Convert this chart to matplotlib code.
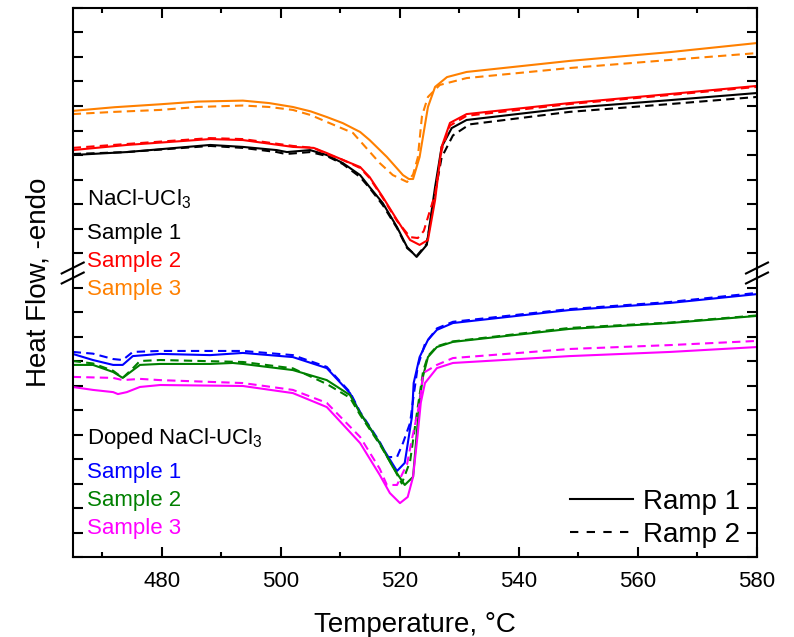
import matplotlib
matplotlib.use('Agg')
import matplotlib.pyplot as plt
from matplotlib.lines import Line2D
from matplotlib.ticker import MultipleLocator

plt.rcParams['font.family'] = ['Liberation Sans', 'DejaVu Sans']
plt.rcParams['mathtext.default'] = 'regular'

# ---- NaCl-UCl3 (upper panel), heat flow in arbitrary units ----
nacl_s1_r1_t = [465, 474.1, 488.1, 493.6, 499.3, 501.0, 504.9, 507.7, 510.4, 513.3, 514.9, 517.1,
                519.5, 521.2, 522.8, 524.5, 525.9, 527.0, 528.7, 531.2, 548.5, 565.4, 580]
nacl_s1_r1_hf = [4.00, 4.12, 4.41, 4.33, 4.20, 4.12, 4.20, 4.00, 3.67, 3.18, 2.69, 2.04,
                 1.06, 0.24, -0.16, 0.33, 2.69, 4.33, 5.10, 5.43, 5.92, 6.24, 6.53]
nacl_s1_r2_t = [465, 474.1, 488.1, 493.6, 499.3, 500.8, 504.9, 507.7, 510.4, 513.3, 514.9, 517.1,
                519.5, 521.2, 522.8, 524.5, 525.9, 527.0, 528.9, 531.7, 548.5, 565.4, 580]
nacl_s1_r2_hf = [4.04, 4.12, 4.37, 4.29, 4.12, 4.04, 4.12, 3.96, 3.63, 3.10, 2.65, 1.96,
                 1.02, 0.20, -0.12, 0.37, 2.45, 3.90, 4.80, 5.25, 5.76, 6.08, 6.37]

nacl_s2_r1_t = [465, 474.1, 488.1, 493.6, 502.0, 505.5, 507.7, 510.4, 513.3, 514.9, 517.1, 519.5,
                521.7, 523.3, 524.7, 525.9, 527.0, 528.4, 531.2, 548.5, 565.4, 580]
nacl_s2_r1_hf = [4.20, 4.41, 4.65, 4.61, 4.33, 4.29, 4.08, 3.80, 3.51, 3.10, 2.29, 1.35,
                 0.53, 0.33, 0.53, 2.16, 4.33, 5.31, 5.67, 6.12, 6.49, 6.82]
nacl_s2_r2_t = [465, 474.1, 488.1, 493.6, 502.0, 505.5, 507.7, 510.4, 513.3, 514.9, 517.1, 519.5,
                521.7, 523.0, 524.0, 525.0, 525.9, 527.0, 528.4, 531.2, 548.5, 565.4, 580]
nacl_s2_r2_hf = [4.29, 4.45, 4.69, 4.65, 4.37, 4.29, 4.04, 3.80, 3.47, 3.06, 2.25, 1.31,
                 0.65, 0.61, 0.90, 1.70, 2.40, 4.20, 5.20, 5.60, 6.08, 6.45, 6.78]

nacl_s3_r1_t = [465, 472.0, 479.7, 486.0, 493.6, 498.0, 502.0, 505.0, 507.7, 510.4, 513.3, 514.9,
                517.8, 520.5, 521.5, 522.2, 523.3, 524.7, 525.9, 527.9, 531.2, 548.5, 565.4, 580]
nacl_s3_r1_hf = [5.80, 5.95, 6.07, 6.18, 6.22, 6.12, 5.96, 5.78, 5.55, 5.30, 4.94, 4.61,
                 3.92, 3.18, 3.02, 3.02, 3.92, 5.96, 6.78, 7.18, 7.39, 7.84, 8.20, 8.57]
nacl_s3_r2_t = [465, 472.0, 479.7, 486.0, 493.6, 498.0, 502.0, 505.0, 507.7, 512.1, 516.6, 518.8,
                521.2, 522.2, 523.0, 523.7, 524.7, 526.7, 531.2, 548.5, 565.4, 580]
nacl_s3_r2_hf = [5.67, 5.76, 5.84, 5.96, 6.02, 5.96, 5.84, 5.63, 5.35, 4.90, 3.67, 3.18,
                 2.90, 3.20, 3.90, 5.60, 6.37, 6.86, 7.14, 7.55, 7.88, 8.16]

# ---- Doped NaCl-UCl3 (lower panel) ----
dop_s1_r1_t = [465, 468.4, 471.8, 473.4, 475.1, 479.7, 488.1, 493.6, 502.0, 507.7, 511.6, 513.3,
               516.6, 519.5, 520.8, 522.0, 522.3, 523.3, 524.7, 526.2, 528.9, 548.5, 565.4, 580]
dop_s1_r1_hf = [8.29, 8.04, 7.84, 7.84, 8.20, 8.29, 8.24, 8.33, 8.16, 7.71, 6.69, 5.88,
                4.65, 3.51, 3.84, 5.71, 7.10, 8.16, 8.86, 9.27, 9.55, 10.08, 10.37, 10.73]
dop_s1_r2_t = [465, 468.4, 471.8, 473.4, 475.1, 479.7, 493.6, 502.0, 507.7, 511.6, 513.3, 516.6,
               517.9, 519.5, 520.5, 521.7, 522.2, 523.0, 524.2, 526.2, 528.9, 548.5, 565.4, 580]
dop_s1_r2_hf = [8.37, 8.30, 8.08, 8.04, 8.37, 8.41, 8.41, 8.24, 7.76, 6.73, 5.92, 4.70,
                4.08, 4.08, 4.65, 5.47, 6.41, 7.80, 8.70, 9.33, 9.60, 10.12, 10.41, 10.78]

dop_s2_r1_t = [465, 468.4, 471.8, 473.4, 476.3, 479.7, 488.1, 491.9, 493.6, 502.0, 507.7, 511.6,
               513.3, 516.6, 518.8, 520.8, 522.2, 523.3, 523.9, 524.7, 526.2, 528.9, 548.5, 565.4, 580]
dop_s2_r1_hf = [7.84, 7.84, 7.55, 7.31, 7.84, 7.88, 7.88, 7.92, 7.88, 7.63, 7.22, 6.61,
                5.88, 4.65, 3.67, 2.94, 3.27, 6.41, 7.40, 8.16, 8.57, 8.78, 9.31, 9.55, 9.84]
dop_s2_r2_t = [465, 468.4, 471.8, 473.4, 475.1, 476.3, 479.7, 493.6, 502.0, 507.7, 511.6, 513.3,
               516.6, 518.8, 520.3, 521.7, 522.8, 523.9, 524.7, 526.2, 528.9, 548.5, 565.4, 580]
dop_s2_r2_hf = [8.00, 7.90, 7.60, 7.31, 7.70, 8.00, 8.04, 7.96, 7.70, 7.06, 6.50, 5.80,
                4.60, 3.70, 3.00, 3.90, 5.80, 7.60, 8.20, 8.60, 8.80, 9.35, 9.57, 9.86]

dop_s3_r1_t = [465, 468.4, 471.8, 472.6, 474.1, 476.3, 479.7, 493.6, 502.0, 507.7, 513.3, 516.6,
               518.3, 520.0, 521.3, 522.2, 523.0, 523.5, 524.2, 526.2, 528.9, 531.7, 548.5, 565.4, 580]
dop_s3_r1_hf = [6.94, 6.82, 6.73, 6.65, 6.73, 6.94, 7.02, 6.98, 6.69, 6.12, 4.65, 3.35,
                2.61, 2.20, 2.45, 3.27, 5.06, 6.30, 7.10, 7.71, 7.92, 7.96, 8.20, 8.37, 8.57]
dop_s3_r2_t = [465, 471.8, 473.4, 476.3, 479.7, 493.6, 502.0, 507.7, 513.3, 516.6, 517.8, 519.5,
               521.2, 522.0, 523.3, 523.9, 526.2, 528.9, 548.5, 565.4, 580]
dop_s3_r2_hf = [7.35, 7.31, 7.22, 7.27, 7.22, 7.10, 6.82, 6.29, 4.90, 3.60, 2.94, 2.94,
                3.80, 4.80, 6.29, 7.51, 7.84, 8.12, 8.49, 8.65, 8.82]

sample_labels = ['Sample 1', 'Sample 2', 'Sample 3']
nacl_colors = ['black', '#FF0000', '#FF8000']
dop_colors = ['#0000FF', '#008000', '#FF00FF']
ramp_labels = ['Ramp 1', 'Ramp 2']

W, H = 794, 637
fig = plt.figure(figsize=(W / 100, H / 100), dpi=100)


def px(x, y):
    return x / W, 1 - y / H


x0, x1 = 72.7, 757.0
y_top, y_brk, y_bot = 8.0, 273.0, 557.0
ax_t = fig.add_axes([x0 / W, 1 - y_brk / H, (x1 - x0) / W, (y_brk - y_top) / H])
ax_b = fig.add_axes([x0 / W, 1 - y_bot / H, (x1 - x0) / W, (y_bot - y_brk) / H])

lw = 1.5
dash = (4, 2.5)
nacl = [(nacl_s1_r1_t, nacl_s1_r1_hf, nacl_s1_r2_t, nacl_s1_r2_hf),
        (nacl_s2_r1_t, nacl_s2_r1_hf, nacl_s2_r2_t, nacl_s2_r2_hf),
        (nacl_s3_r1_t, nacl_s3_r1_hf, nacl_s3_r2_t, nacl_s3_r2_hf)]
dop = [(dop_s1_r1_t, dop_s1_r1_hf, dop_s1_r2_t, dop_s1_r2_hf),
       (dop_s2_r1_t, dop_s2_r1_hf, dop_s2_r2_t, dop_s2_r2_hf),
       (dop_s3_r1_t, dop_s3_r1_hf, dop_s3_r2_t, dop_s3_r2_hf)]

for (t1, h1, t2, h2), c in zip(nacl, nacl_colors):
    ax_t.plot(t1, h1, color=c, lw=lw)
    ax_t.plot(t2, h2, color=c, lw=lw, dashes=dash)
for (t1, h1, t2, h2), c in zip(dop, dop_colors):
    ax_b.plot(t1, h1, color=c, lw=lw)
    ax_b.plot(t2, h2, color=c, lw=lw, dashes=dash)

tick_step = 24.5
ax_t.set_ylim(10 - (y_brk - y_top) / tick_step, 10)
ax_b.set_ylim(0, (y_bot - y_brk) / tick_step)

for ax in (ax_t, ax_b):
    ax.set_xlim(465, 580)
    ax.xaxis.set_major_locator(MultipleLocator(20))
    ax.xaxis.set_minor_locator(MultipleLocator(10))
    ax.yaxis.set_major_locator(MultipleLocator(1))
    ax.set_yticklabels([])
    for s in ax.spines.values():
        s.set_linewidth(1.5)
    ax.tick_params(which='both', direction='in', width=1.5, left=True, right=True,
                   labelleft=False, labelsize=16, pad=10)
    ax.tick_params(which='major', length=7)
    ax.tick_params(which='minor', length=3.6)
    ax.tick_params(axis='y', which='minor', length=0)

ax_t.spines['bottom'].set_visible(False)
ax_b.spines['top'].set_visible(False)
ax_t.tick_params(which='both', top=True, bottom=False, labelbottom=False)
ax_b.tick_params(which='both', top=False, bottom=True, labelbottom=True)

# break marks
for xc in (x0, x1):
    for yc in (268.0, 278.0):
        xa, ya = px(xc - 11, yc + 5.5)
        xb, yb = px(xc + 11, yc - 5.5)
        fig.add_artist(Line2D([xa, xb], [ya, yb], color='black', lw=1.5,
                              transform=fig.transFigure))

# group labels
fs = 16
tx = 87 / W
fig.text(tx, 1 - 205 / H, 'NaCl-UCl$_3$', fontsize=fs, va='baseline')
for lab, c, yb in zip(sample_labels, nacl_colors, [239, 267, 295]):
    fig.text(tx, 1 - yb / H, lab, color=c, fontsize=fs, va='baseline')
fig.text(tx, 1 - 444 / H, 'Doped NaCl-UCl$_3$', fontsize=fs, va='baseline')
for lab, c, yb in zip(sample_labels, dop_colors, [478, 506, 534]):
    fig.text(tx, 1 - yb / H, lab, color=c, fontsize=fs, va='baseline')

handles = [Line2D([], [], color='black', lw=lw),
           Line2D([], [], color='black', lw=lw, dashes=(4, 4))]
fig.legend(handles, ramp_labels, loc='lower right', bbox_to_anchor=px(740, 548),
           bbox_transform=fig.transFigure, frameon=False, fontsize=20,
           handlelength=2.27, handletextpad=0.36, labelspacing=0.25,
           borderaxespad=0, borderpad=0)

fig.text((x0 + x1) / 2 / W, 1 - 632 / H, 'Temperature, °C', fontsize=20,
         ha='center', va='baseline')
fig.text(39 / W, 1 - 282 / H, 'Heat Flow, -endo', fontsize=20, rotation=90,
         ha='center', va='center')

fig.savefig('out.png', dpi=100)
